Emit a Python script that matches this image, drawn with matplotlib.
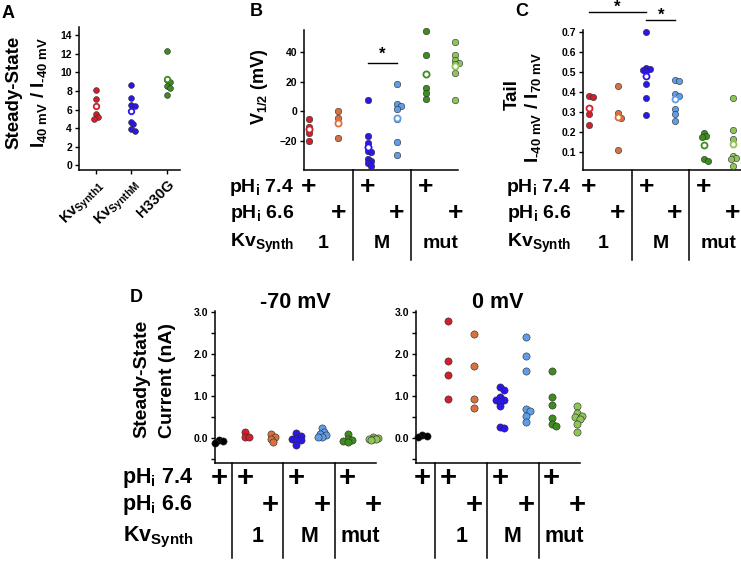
import numpy as np
import matplotlib
matplotlib.use("Agg")
import matplotlib.pyplot as plt
from matplotlib.lines import Line2D
from matplotlib.transforms import blended_transform_factory

plt.rcParams.update({
    "font.family": ["Liberation Sans", "DejaVu Sans"],
    "font.weight": "bold",
    "mathtext.fontset": "custom",
    "mathtext.rm": "Liberation Sans:bold",
    "mathtext.it": "Liberation Sans:bold",
    "mathtext.bf": "Liberation Sans:bold",
    "axes.linewidth": 1.1,
    "xtick.major.width": 1.0,
    "ytick.major.width": 1.0,
    "ytick.minor.width": 1.0,
    "xtick.major.size": 3,
    "ytick.major.size": 3,
    "ytick.minor.size": 3,
    "xtick.labelsize": 7.5,
    "ytick.labelsize": 7.5,
    "xtick.major.pad": 2,
    "ytick.major.pad": 2,
})

RED, ORANGE = "#d21f2b", "#d9713f"
BLUE, LBLUE = "#2b17e8", "#5e9de8"
GREEN, LGREEN = "#408b20", "#8fc457"
HY = "\u2010"  # plain hyphen, mathtext '-' adds operator spacing

# ---- panel A: steady-state ratio ----
a_labels = [r"Kv$_{\rm Synth1}$", r"Kv$_{\rm SynthM}$", "H330G"]
a_synth1 = [8.1, 7.1, 5.5, 5.2, 4.95]
a_synthM = [8.7, 7.2, 6.5, 6.4, 4.7, 4.4, 3.95, 3.7]
a_h330g = [12.3, 9.2, 8.95, 8.5, 8.35, 7.55]
a_means = [6.35, 5.8, 9.3]

# ---- panel B: V1/2 ----
b_syn1_74 = [-5.5, -10.5, -15, -20]
b_syn1_66 = [0, -4.5, -18]
b_synM_74 = [7.5, -17, -21.5, -27, -28, -32.5, -34, -35.5, -37]
b_synM_66 = [18.5, 5, 3.5, 1.5, -5.5, -21, -30]
b_mut_74 = [54, 38, 15.8, 12.2, 8]
b_mut_66 = [47, 38, 34.5, 32.5, 32, 25.5, 7.7]
b_means = [-12.5, -8, -24.5, -4.5, 25, 30.5]

# ---- panel C: tail ratio ----
c_syn1_74 = [0.38, 0.375, 0.29, 0.235]
c_syn1_66 = [0.43, 0.295, 0.275, 0.27, 0.11]
c_synM_74 = [0.70, 0.52, 0.515, 0.51, 0.505, 0.44, 0.37, 0.285]
c_synM_66 = [0.46, 0.455, 0.39, 0.38, 0.315, 0.29, 0.255]
c_mut_74 = [0.195, 0.18, 0.175, 0.065, 0.055]
c_mut_66 = [0.37, 0.21, 0.165, 0.08, 0.07, 0.065, 0.03]
c_means = [0.32, 0.275, 0.48, 0.365, 0.135, 0.14]

# ---- panel D: steady-state current (nA) ----
d70_ctrl = [-0.05, -0.08, -0.12]
d70_syn1_74 = [0.13, 0.03, 0.02]
d70_syn1_66 = [0.08, 0.02, -0.03, -0.11]
d70_synM_74 = [0.12, 0.05, 0.0, -0.03, -0.05, -0.06, -0.16]
d70_synM_66 = [0.24, 0.15, 0.10, 0.06, 0.03, 0.01]
d70_mut_74 = [0.09, -0.02, -0.05, -0.08, -0.10]
d70_mut_66 = [0.03, 0.0, -0.02, -0.03, -0.04, -0.05]

d0_ctrl = [0.06, 0.04, 0.02]
d0_syn1_74 = [2.78, 1.83, 1.50, 0.92]
d0_syn1_66 = [2.47, 1.72, 0.93, 0.70]
d0_synM_74 = [1.20, 1.13, 0.96, 0.91, 0.89, 0.86, 0.75, 0.25, 0.23]
d0_synM_66 = [2.41, 1.94, 1.59, 0.69, 0.65, 0.51, 0.38]
d0_mut_74 = [1.60, 0.98, 0.79, 0.47, 0.33, 0.28]
d0_mut_66 = [0.76, 0.59, 0.53, 0.50, 0.44, 0.32, 0.14]

six_colors = [RED, ORANGE, BLUE, LBLUE, GREEN, LGREEN]
seven_colors = ["black"] + six_colors

W, H = 741, 561
fig = plt.figure(figsize=(W / 100, H / 100), dpi=100)


def fy(ypx):
    return 1 - ypx / H


def axes_px(x0, y0, x1, y1):
    ax = fig.add_axes([x0 / W, 1 - y1 / H, (x1 - x0) / W, (y1 - y0) / H])
    ax.spines[["top", "right"]].set_visible(False)
    return ax


def swarm(ax, xc, vals, diam):
    # deterministic, tight beeswarm in pixel space (overlap allowed)
    vals = np.asarray(vals, float)
    pts = ax.transData.transform(np.column_stack([np.full(len(vals), xc), vals]))
    placed, xs = [], []
    for px, py in pts:
        best, best_gap = px, -1
        for k in [0, 1, -1, 2, -2]:
            cx = px + k * 0.3 * diam
            gap = min([np.hypot(cx - qx, py - qy) for qx, qy in placed], default=1e9)
            if gap >= 0.55 * diam:
                best = cx
                break
            if gap > best_gap + 0.5:
                best, best_gap = cx, gap
        placed.append((best, py))
        xs.append(best)
    back = ax.transData.inverted().transform(np.column_stack([xs, pts[:, 1]]))
    return back[:, 0]


def dots(ax, groups, colors, diam, means=None):
    s = (diam * 0.72) ** 2
    for i, (vals, c) in enumerate(zip(groups, colors)):
        xs = swarm(ax, i, vals, diam)
        ax.scatter(xs, vals, s=s, color=c, edgecolors="#2a2a2a", linewidths=0.4,
                   zorder=3, clip_on=False)
        if means is not None:
            ax.scatter([i], [means[i]], s=s * 0.9, facecolors="white", edgecolors=c,
                       linewidths=1.3, zorder=4, clip_on=False)


def table(ax, plus74, plus66, kv_pos, kv_txt, dividers, lab_x, rows, y0, y1, fs, pfs,
          show_labels=True):
    tr = blended_transform_factory(ax.transData, fig.transFigure)
    for x in plus74:
        fig.text(x, fy(rows[0]), "+", transform=tr, ha="center", va="center", fontsize=pfs)
    for x in plus66:
        fig.text(x, fy(rows[1]), "+", transform=tr, ha="center", va="center", fontsize=pfs)
    for x, t in zip(kv_pos, kv_txt):
        fig.text(x, fy(rows[2]), t, transform=tr, ha="center", va="center", fontsize=fs)
    for x in dividers:
        fig.add_artist(Line2D([x, x], [fy(y0), fy(y1)], transform=tr, color="black", lw=1.1))
    if show_labels:
        fig.text(lab_x / W, fy(rows[0]), r"pH$_{\rm i}$ 7.4", ha="right", va="center", fontsize=fs)
        fig.text(lab_x / W, fy(rows[1]), r"pH$_{\rm i}$ 6.6", ha="right", va="center", fontsize=fs)
        fig.text(lab_x / W, fy(rows[2]), r"Kv$_{\rm Synth}$", ha="right", va="center", fontsize=fs)


# ================= A =================
axA = axes_px(79, 27, 180, 170)
axA.set_xlim(-0.48, 2.37)
axA.set_ylim(-0.5, 14.9)
axA.set_yticks(range(0, 15, 2))
axA.set_xticks(range(3))
axA.set_xticklabels(a_labels, rotation=45, ha="right", rotation_mode="anchor", fontsize=10.5)
dots(axA, [a_synth1, a_synthM, a_h330g], [RED, BLUE, GREEN], 5.8, a_means)
fig.text(14 / W, fy(92), "Steady-State", rotation=90, ha="center", va="center", fontsize=13.5)
fig.text(39 / W, fy(92), r"I$_{\rm 40\ mV}$ / I$_{\rm " + HY + r"40\ mV}$", rotation=90,
         ha="center", va="center", fontsize=13.5)
fig.text(2 / W, fy(14), "A", ha="left", va="center", fontsize=13)

# ================= B =================
axB = axes_px(304, 30, 458, 170)
axB.set_xlim(-0.17, 5.09)
axB.set_ylim(-40, 55)
axB.set_yticks([-20, 0, 20, 40])
axB.set_xticks([])
dots(axB, [b_syn1_74, b_syn1_66, b_synM_74, b_synM_66, b_mut_74, b_mut_66],
     six_colors, 6.5, b_means)
axB.plot([2, 3], [32.8, 32.8], color="black", lw=1.0)
axB.text(2.5, 38.5, "*", ha="center", va="center", fontsize=12)
fig.text(259 / W, fy(87), r"V$_{\rm 1/2}$ (mV)", rotation=90, ha="center", va="center", fontsize=13)
fig.text(256 / W, fy(12), "B", ha="center", va="center", fontsize=13)
table(axB, [0, 2, 4], [1, 3, 5], [0.5, 2.5, 4.5], ["1", "M", "mut"], [1.5, 3.5],
      294, [187.5, 213, 243], 170, 260, 14, 19)

# ================= C =================
axC = axes_px(583, 30, 741, 170)
axC.set_xlim(-0.2, 5.29)
axC.set_ylim(0.01, 0.71)
axC.set_yticks(np.arange(0.1, 0.75, 0.1))
axC.set_yticklabels([f"{v:.1f}" for v in np.arange(0.1, 0.75, 0.1)])
axC.set_xticks([])
dots(axC, [c_syn1_74, c_syn1_66, c_synM_74, c_synM_66, c_mut_74, c_mut_66],
     six_colors, 6.3, c_means)
axC.plot([0, 2], [0.80, 0.80], color="black", lw=1.0, clip_on=False)
axC.plot([2, 3], [0.76, 0.76], color="black", lw=1.0, clip_on=False)
axC.text(1, 0.822, "*", ha="center", va="center", fontsize=12)
axC.text(2.5, 0.782, "*", ha="center", va="center", fontsize=12)
fig.text(512 / W, fy(95), "Tail", rotation=90, ha="center", va="center", fontsize=13.5)
fig.text(533 / W, fy(107), r"I$_{\rm " + HY + r"40\ mV}$ / I$_{\rm 70\ mV}$", rotation=90,
         ha="center", va="center", fontsize=13.5)
fig.text(522 / W, fy(12), "C", ha="center", va="center", fontsize=13)
table(axC, [0, 2, 4], [1, 3, 5], [0.5, 2.5, 4.5], ["1", "M", "mut"], [1.5, 3.5],
      571, [187.5, 213, 243], 170, 260, 14, 19)

# ================= D =================
d_panels = [
    ((215, 376), "-70 mV",
     [d70_ctrl, d70_syn1_74, d70_syn1_66, d70_synM_74, d70_synM_66, d70_mut_74, d70_mut_66]),
    ((416, 580), "0 mV",
     [d0_ctrl, d0_syn1_74, d0_syn1_66, d0_synM_74, d0_synM_66, d0_mut_74, d0_mut_66]),
]
for k, ((x0, x1), title, groups) in enumerate(d_panels):
    ax = axes_px(x0, 311, x1, 463)
    ax.set_xlim(-0.16 if k == 0 else -0.25, 6.1)
    ax.set_ylim(-0.6, 3.02)
    ax.set_yticks([0, 1, 2, 3])
    ax.set_yticklabels(["0.0", "1.0", "2.0", "3.0"])
    ax.set_yticks([-0.5, 0.5, 1.5, 2.5], minor=True)
    ax.set_xticks([])
    dots(ax, groups, seven_colors, 7.2)
    fig.text((x0 + x1) / 2 / W, fy(302), title, ha="center", va="center", fontsize=15.5)
    table(ax, [0, 1, 3, 5], [2, 4, 6], [1.5, 3.5, 5.5], ["1", "M", "mut"], [0.5, 2.5, 4.5],
          193, [478, 505, 537], 463, 558, 15.5, 21, show_labels=(k == 0))

fig.text(142 / W, fy(379), "Steady-State", rotation=90, ha="center", va="center", fontsize=14)
fig.text(167 / W, fy(380), "Current (nA)", rotation=90, ha="center", va="center", fontsize=14)
fig.text(136 / W, fy(297), "D", ha="center", va="center", fontsize=13)

fig.savefig("out.png", dpi=100)
